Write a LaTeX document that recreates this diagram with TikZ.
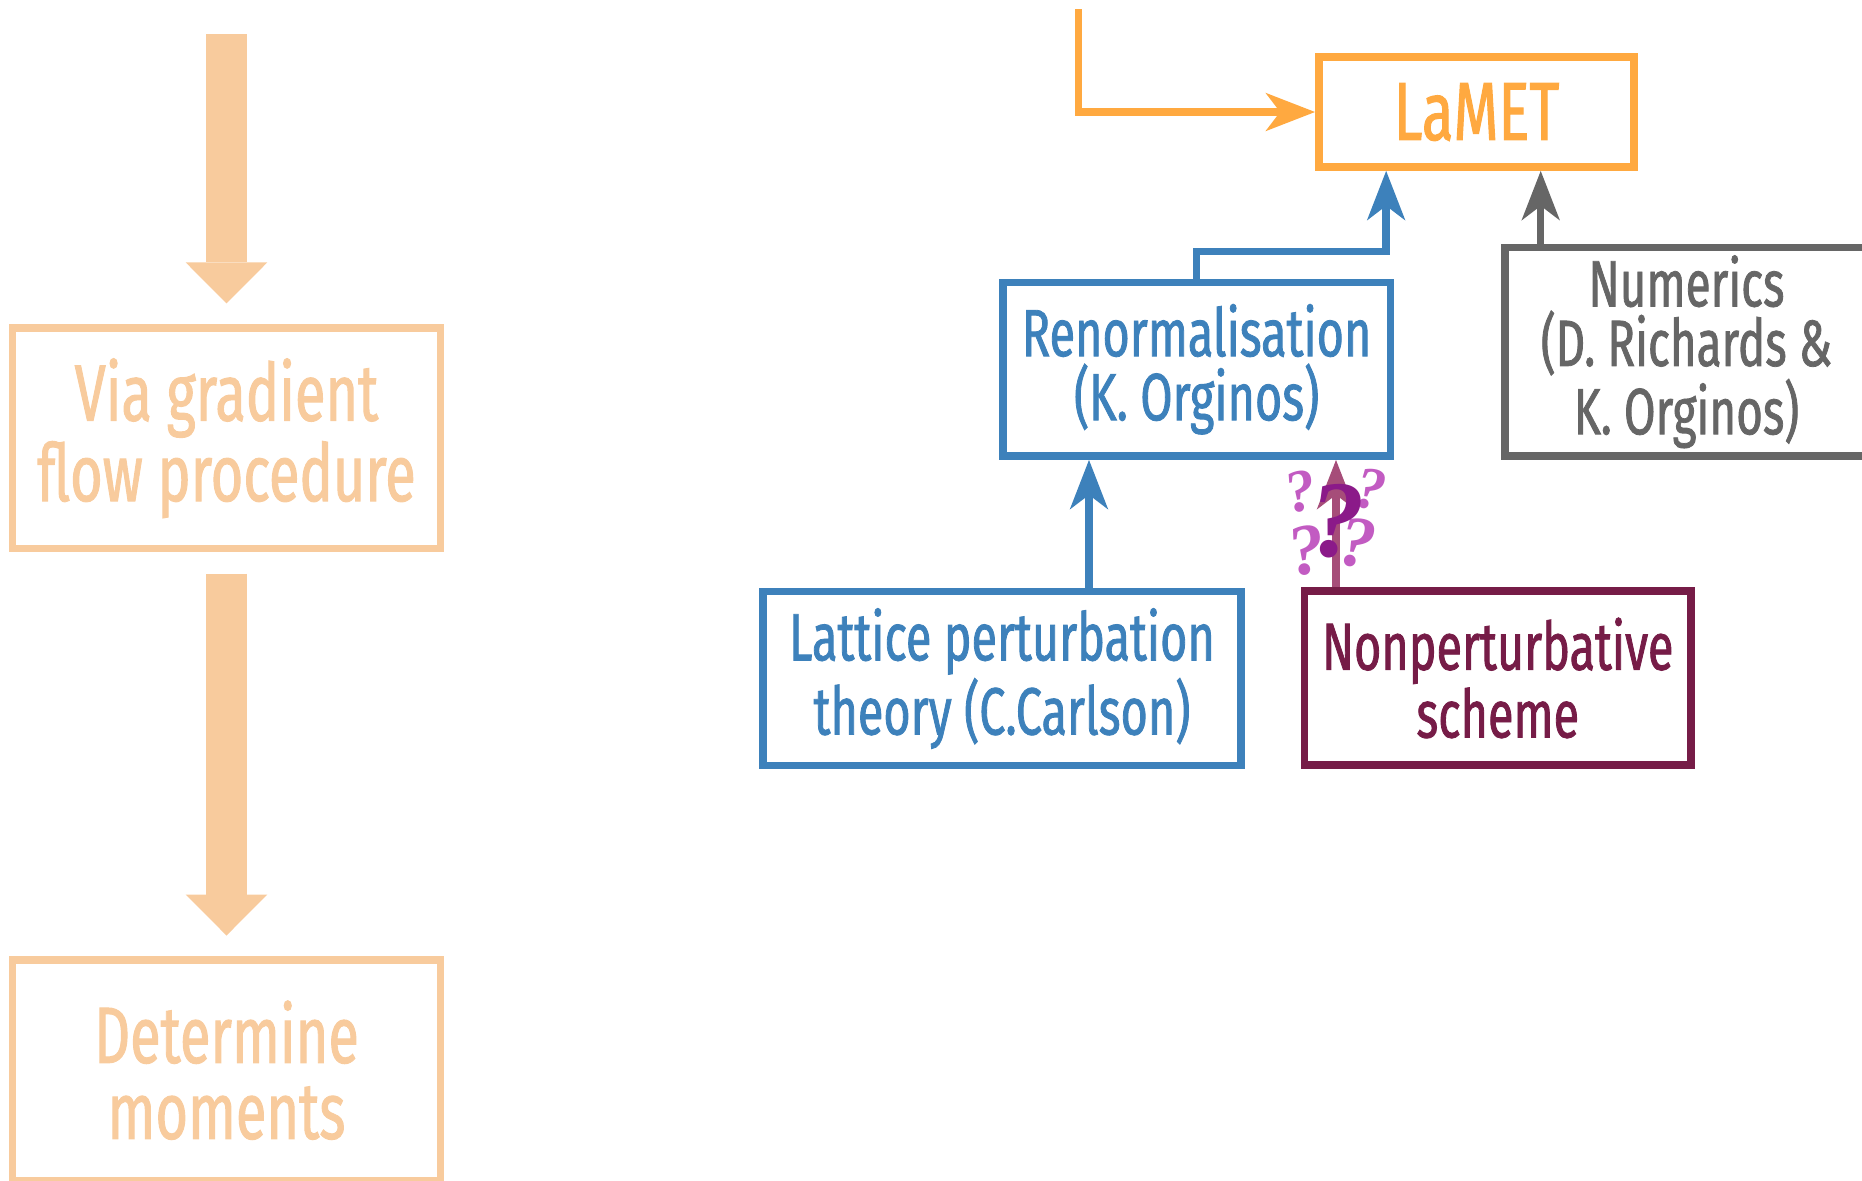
\documentclass[tikz,border=0pt]{standalone}
\usepackage{fontspec}
\setmainfont{Fira Sans}[FakeStretch=0.70, FakeBold=1.2]
\newfontfamily\qmarkfont{Liberation Serif}
\usepackage{tikz}
\usetikzlibrary{arrows.meta, calc, positioning}

\definecolor{lametorange}{HTML}{FFA940}
\definecolor{paleorange}{HTML}{F8CB9D}
\definecolor{renblue}{HTML}{3D81BB}
\definecolor{numgrey}{HTML}{666666}
\definecolor{npmaroon}{HTML}{761C47}
\definecolor{npmauve}{HTML}{A64D79}
\definecolor{qdark}{HTML}{8B1A89}
\definecolor{qlight}{HTML}{C25BC2}

\begin{document}
\begin{tikzpicture}[x=0.01cm, y=-0.01cm]
                        \tikzset{
                            box/.style={
                                    draw, rectangle, line width=0.075cm, inner sep=0pt, align=center
                                },
                            fadebox/.style={
                                    box, draw=paleorange, text=paleorange,
                                    minimum width=4.28cm, minimum height=2.204cm,
                                    font=\fontsize{22.7}{21.6}\selectfont
                                },
                            smallbox/.style={
                                    box, minimum height=1.735cm,
                                    font=\fontsize{19}{18.2}\selectfont
                                },
                            link/.style={
                                    line width=0.075cm,
                                    -{Stealth[length=0.49cm, width=0.375cm, inset=0.14cm]}
                                },
                            fatarrow/.style={
                                    draw=paleorange, line width=0.416cm,
                                    -{Triangle[length=0.41cm, width=0.816cm, line width=0pt]}
                                },
                            qmark/.style={
                                    text=qlight, inner sep=0pt, font=\qmarkfont\bfseries\itshape\fontsize{17}{17}\selectfont
                                }
                        }

                        \clip (0,0) rectangle (1862,1181);
                        \useasboundingbox (0,0) rectangle (1862,1181);

                        % left column
                        \coordinate (flowtop) at (226.5, 34.4);
                        \node[fadebox] (grad) at (226.5, 438.2) {Via gradient\\flow procedure};
                        \node[fadebox] (moments) at (226.5, 1070.2) {Determine\\moments};
                        \draw[fatarrow, shorten >=0.2075cm] (flowtop) -- (grad.north);
                        \draw[fatarrow, shorten <=0.2145cm, shorten >=0.2065cm] (grad.south) -- (moments.north);

                        % right column
                        \node[box, draw=lametorange, text=lametorange, minimum width=3.15cm, minimum height=1.1cm,
                            font=\fontsize{23.5}{23.5}\selectfont] (lamet) at (1476.5, 112) {LaMET};
                        \node[smallbox, draw=renblue, text=renblue, minimum width=3.873cm] (renorm) at (1196.65, 369.25)
                            {Renormalisation\\(K. Orginos)};
                        \node[box, draw=numgrey, text=numgrey, minimum width=3.63cm, minimum height=2.085cm,
                            font=\fontsize{18.6}{15.3}\selectfont] (numerics) at (1686.5, 351.75)
                            {Numerics\\(D. Richards \&\\K. Orginos)};
                        \node[smallbox, draw=renblue, text=renblue, minimum width=4.78cm] (lattice) at (1002, 678.5)
                            {Lattice perturbation\\theory (C.Carlson)};
                        \node[smallbox, draw=npmaroon, text=npmaroon, minimum width=3.865cm] (nonpert) at (1497.75, 678)
                            {Nonperturbative\\scheme};

                        \coordinate (lamettop) at (1078.6, 9);
                        \coordinate (btop) at ($(lamet.south west)!0.22!(lamet.south east)$);
                        \coordinate (gtop) at ($(lamet.south west)!0.699!(lamet.south east)$);
                        \coordinate (lpfoot) at ($(lattice.north)+(87,0)$);
                        \coordinate (npfoot) at ($(nonpert.north)+(-161.75,0)$);

                        \draw[link, lametorange] (lamettop) |- (lamet.west);
                        \draw[link, renblue] (renorm.north) -- ++(0,-27.3) -| (btop);
                        \draw[link, numgrey] (numerics.north -| gtop) -- (gtop);
                        \draw[link, renblue] (lpfoot) -- (lpfoot |- renorm.south);
                        \draw[link, npmauve] (npfoot) -- (npfoot |- renorm.south);

                        % question marks
                        \node[qmark, rotate=12] (qa) at (1301, 491) {?};
                        \node[qmark, rotate=-8] (qb) at (1371, 489) {?};
                        \node[qmark, rotate=10, font=\qmarkfont\bfseries\itshape\fontsize{20.5}{20.5}\selectfont] (qc) at (1307, 550) {?};
                        \node[qmark, rotate=-6, font=\qmarkfont\bfseries\itshape\fontsize{20.5}{20.5}\selectfont] (qd) at (1358, 543) {?};
                        \node[qmark, text=qdark, font=\qmarkfont\bfseries\itshape\fontsize{31}{31}\selectfont] (qmain) at (1337.5, 521) {?};
                    \end{tikzpicture}
\end{document}
